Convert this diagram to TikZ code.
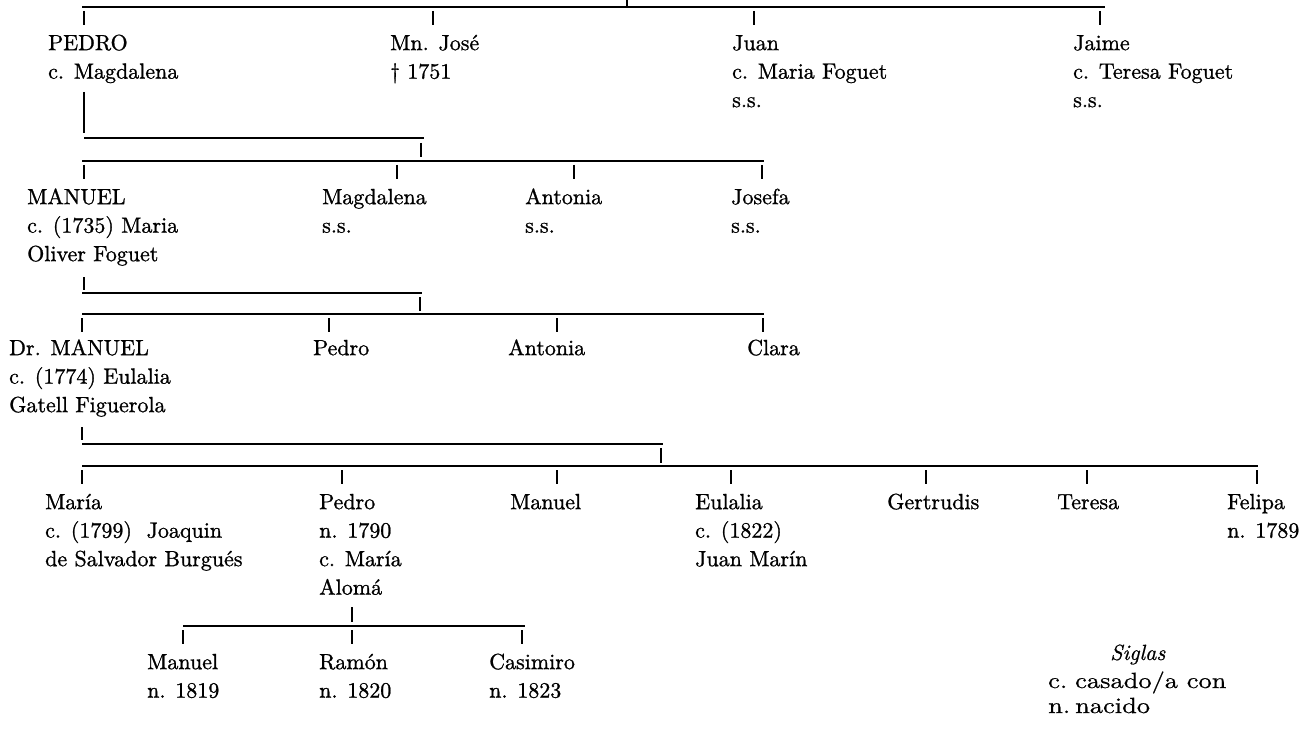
\documentclass[tikz,border=0pt]{standalone}
\usepackage{fontspec}
\newfontfamily\pfam{lmroman10-regular}[Extension=.otf, FakeBold=1]
\newfontfamily\lfam{lmroman10-regular}[Extension=.otf, FakeStretch=1.2, FakeBold=0.6]
\newfontfamily\lital{lmroman10-italic}[Extension=.otf, FakeBold=0.6]
\newcommand\pf{\pfam\fontsize{22}{28.5}\selectfont}
\newcommand\lf{\lfam\fontsize{22}{25}\selectfont}
\tikzset{
  ln/.style={line width=1.5pt, line cap=butt},
  person/.style={anchor=north west, inner sep=0pt, align=left, font=\pf},
  legend/.style={anchor=base west, inner sep=0pt, font=\lf},
}
% child tick below a bar: x, bar y
\newcommand\kid[2]{\draw[ln] (#1,{#2+4}) -- (#1,{#2+18});}
\begin{document}
\begin{tikzpicture}[x=1pt,y=-1pt]
\fill[white] (0,0) rectangle (1305,730);
\useasboundingbox (0,0) rectangle (1305,730);

% ---------- generation 1 ----------
\coordinate (g1a) at (82,7);
\coordinate (g1b) at (1105,7);
\coordinate (g0) at (627,0);
\draw[ln] (g1a) -- (g1b);
\draw[ln] (g0) -- (g0 |- g1a);

\node[person] (pedro) at (48,30) {\strut PEDRO\\\strut c. Magdalena};
\node[person] (jose) at (390,30) {\strut Mn. José\\\strut \textdagger{} 1751};
\node[person] (juan) at (732,30) {\strut Juan\\\strut c. Maria Foguet\\\strut s.s.};
\node[person] (jaime) at (1073,30) {\strut Jaime\\\strut c. Teresa Foguet\\\strut s.s.};
\kid{84}{7} \kid{433}{7} \kid{754}{7} \kid{1100}{7}

% ---------- generation 2 ----------
\coordinate (p1) at (84,92);
\coordinate (p2) at (84,133);
\coordinate (m1a) at (84,138);
\coordinate (m1b) at (424,138);
\coordinate (d1a) at (421,143);
\coordinate (d1b) at (421,157);
\coordinate (g2a) at (82,161);
\coordinate (g2b) at (764,161);
\draw[ln] (p1) -- (p2);
\draw[ln] (m1a) -- (m1b);
\draw[ln] (d1a) -- (d1b);
\draw[ln] (g2a) -- (g2b);

\node[person] (manuel) at (27,184) {\strut MANUEL\\\strut c. (1735) Maria\\\strut Oliver Foguet};
\node[person] (magdalena) at (322,184) {\strut Magdalena\\\strut s.s.};
\node[person] (antoniaA) at (525,184) {\strut Antonia\\\strut s.s.};
\node[person] (josefa) at (731,184) {\strut Josefa\\\strut s.s.};
\kid{84}{161} \kid{397}{161} \kid{574}{161} \kid{762}{161}

% ---------- generation 3 ----------
\coordinate (q1) at (84,277);
\coordinate (q2) at (84,290);
\coordinate (m2a) at (82,293);
\coordinate (m2b) at (422,293);
\coordinate (d2a) at (420,297);
\coordinate (d2b) at (420,311);
\coordinate (g3a) at (82,314);
\coordinate (g3b) at (764,314);
\draw[ln] (q1) -- (q2);
\draw[ln] (m2a) -- (m2b);
\draw[ln] (d2a) -- (d2b);
\draw[ln] (g3a) -- (g3b);

\node[person] (drmanuel) at (9,335) {\strut Dr. MANUEL\\\strut c. (1774) Eulalia\\\strut Gatell Figuerola};
\node[person] (pedroB) at (313,335) {\strut Pedro};
\node[person] (antoniaB) at (508,335) {\strut Antonia};
\node[person] (clara) at (747,335) {\strut Clara};
\kid{82}{314} \kid{329}{314} \kid{557}{314} \kid{763}{314}

% ---------- generation 4 ----------
\coordinate (r1) at (82,427);
\coordinate (r2) at (82,440);
\coordinate (m3a) at (82,444);
\coordinate (m3b) at (663,444);
\coordinate (d3a) at (661,448);
\coordinate (d3b) at (661,463);
\coordinate (g4a) at (82,466);
\coordinate (g4b) at (1258,466);
\draw[ln] (r1) -- (r2);
\draw[ln] (m3a) -- (m3b);
\draw[ln] (d3a) -- (d3b);
\draw[ln] (g4a) -- (g4b);

\node[person] (maria) at (45,489) {\strut María\\\strut c. (1799) \ Joaquin\\\strut de Salvador Burgués};
\node[person] (pedroC) at (319,489) {\strut Pedro\\\strut n. 1790\\\strut c. María\\\strut Alomá};
\node[person] (manuelC) at (510,489) {\strut Manuel};
\node[person] (eulalia) at (695,489) {\strut Eulalia\\\strut c. (1822)\\\strut Juan Marín};
\node[person] (gertrudis) at (887,489) {\strut Gertrudis};
\node[person] (teresa) at (1057,489) {\strut Teresa};
\node[person] (felipa) at (1227,489) {\strut Felipa\\\strut n. 1789};
\kid{82}{466} \kid{342}{466} \kid{557}{466} \kid{731}{466}
\kid{926}{466} \kid{1087}{466} \kid{1257}{466}

% ---------- generation 5 ----------
\coordinate (s1) at (352,607);
\coordinate (s2) at (352,622);
\coordinate (g5a) at (183,626);
\coordinate (g5b) at (525,626);
\draw[ln] (s1) -- (s2);
\draw[ln] (g5a) -- (g5b);

\node[person] (manuelD) at (147,649) {\strut Manuel\\\strut n. 1819};
\node[person] (ramon) at (319,649) {\strut Ramón\\\strut n. 1820};
\node[person] (casimiro) at (489,649) {\strut Casimiro\\\strut n. 1823};
\kid{183}{626} \kid{352}{626} \kid{522}{626}

% ---------- legend ----------
\node[legend, font=\lital\fontsize{22}{25}\selectfont] (siglas) at (1110,660) {Siglas};
\node[legend] (kc) at (1048,688) {c.};
\node[legend] (vc) at (1075,688) {casado/a\ con};
\node[legend] (kn) at (1048,713) {n.};
\node[legend] (vn) at (1075,713) {nacido};
\end{tikzpicture}
\end{document}
